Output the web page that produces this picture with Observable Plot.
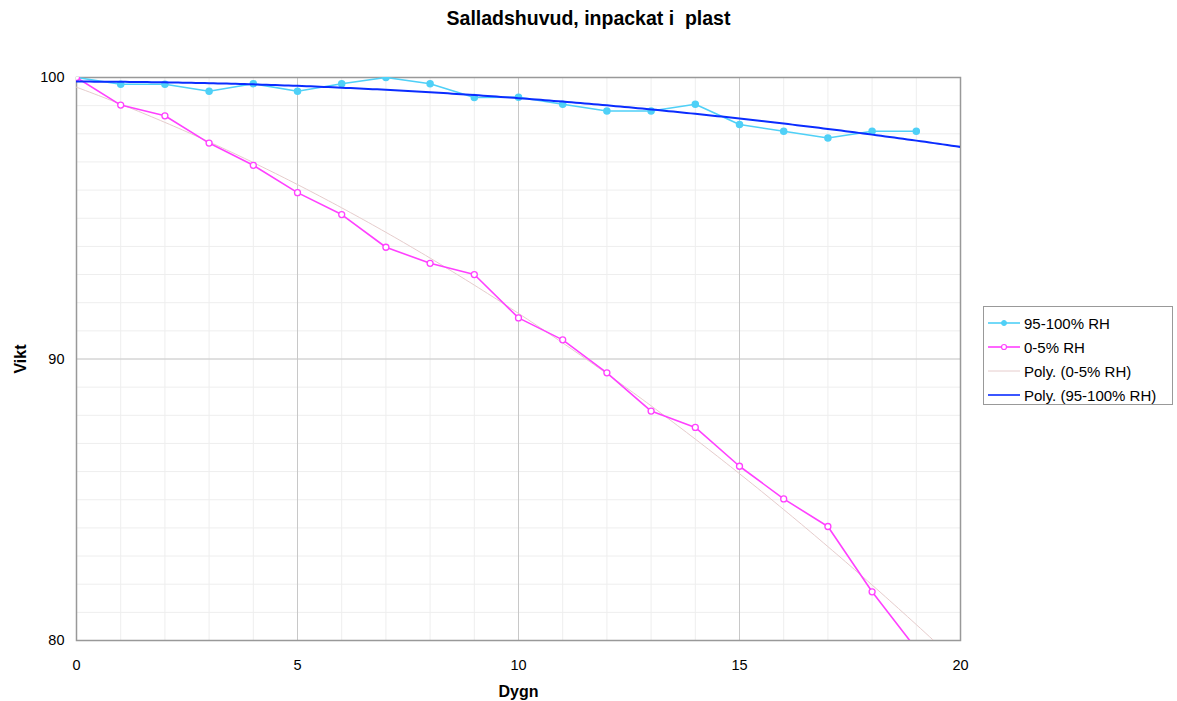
<!DOCTYPE html>
<html><head><meta charset="utf-8">
<script src="https://cdn.jsdelivr.net/npm/d3@7"></script>
<script src="https://cdn.jsdelivr.net/npm/@observablehq/plot@0.6"></script>
<style>
body{margin:0;background:#fff;font-family:"Liberation Sans",Arial,sans-serif;}
#wrap{position:relative;width:1177px;height:701px;}
#title{height:45px;line-height:37px;text-align:center;font-weight:bold;font-size:19.5px;color:#000;}
#legend{position:absolute;left:983px;top:306px;width:190px;height:99px;border:1px solid #999;background:#fff;box-sizing:border-box;font-size:15px;}
.li{position:absolute;left:4px;height:20px;display:flex;align-items:center;}
.li svg{margin-right:4px;}
svg [aria-label="x-axis label"] text, svg [aria-label="y-axis label"] text{font-weight:bold;font-size:16px;}
</style></head>
<body><div id="wrap"><div id="title">Salladshuvud, inpackat i&nbsp; plast</div><div id="chart"></div>
<div id="legend"></div></div>
<script>
const days = [0,1,2,3,4,5,6,7,8,9,10,11,12,13,14,15,16,17,18,19];
const rh95 = [100,99.76,99.76,99.51,99.78,99.51,99.78,100,99.78,99.29,99.3,99.05,98.81,98.81,99.05,98.33,98.09,97.85,98.09,98.09];
const rh0 = [100,99.02,98.64,97.67,96.88,95.91,95.13,93.97,93.40,93.0,91.46,90.68,89.51,88.15,87.57,86.19,85.03,84.05,81.73,79.7];
const xTicks = [0,5,10,15,20];
const yTicks = [80,90,100];
const seriesNames = ["95-100% RH","0-5% RH","Poly. (0-5% RH)","Poly. (95-100% RH)"];
const colors = ["#4fd0f7","#ff40ff","#e6cccc","#0a2cff"];

function polyfit(xs, ys, deg){
  const n = deg+1;
  const A = Array.from({length:n},()=>Array(n+1).fill(0));
  for(let i=0;i<xs.length;i++){
    for(let r=0;r<n;r++){
      for(let c=0;c<n;c++) A[r][c]+=Math.pow(xs[i],r+c);
      A[r][n]+=ys[i]*Math.pow(xs[i],r);
    }
  }
  for(let i=0;i<n;i++){
    let p=i; for(let k=i+1;k<n;k++) if(Math.abs(A[k][i])>Math.abs(A[p][i])) p=k;
    [A[i],A[p]]=[A[p],A[i]];
    for(let k=0;k<n;k++){ if(k===i) continue; const f=A[k][i]/A[i][i]; for(let c=i;c<=n;c++) A[k][c]-=f*A[i][c]; }
  }
  const coef = A.map((row,i)=>row[n]/row[i]);
  return x=>coef.reduce((s,c,i)=>s+c*Math.pow(x,i),0);
}
const f95 = polyfit(days, rh95, 2);
const f0 = polyfit(days, rh0, 2);
const xs = d3.range(0,20.001,0.1);
const trend95 = xs.map(x=>({x, y:f95(x)}));
const trend0 = xs.map(x=>({x, y:f0(x)}));
const d95 = days.map((d,i)=>({x:d,y:rh95[i]}));
const d0 = days.map((d,i)=>({x:d,y:rh0[i]}));
const minorX = d3.range(0,21);
const minorY = d3.range(80,101);

const chart = Plot.plot({
  width:1177, height:656,
  marginLeft:76, marginRight:217, marginTop:32, marginBottom:61,
  style:{fontSize:"14.5px", fontFamily:"Liberation Sans, Arial, sans-serif", color:"#000", background:"#fff"},
  x:{domain:[0,20]},
  y:{domain:[80,100]},
  marks:[
    Plot.ruleX(minorX,{stroke:"#eeeeee",strokeWidth:1}),
    Plot.ruleY(minorY,{stroke:"#eeeeee",strokeWidth:1}),
    Plot.ruleX(xTicks.slice(1,-1),{stroke:"#c8c8c8",strokeWidth:1}),
    Plot.ruleY(yTicks.slice(1,-1),{stroke:"#c8c8c8",strokeWidth:1}),
    Plot.frame({stroke:"#999",strokeWidth:1.5}),
    Plot.axisX({ticks:xTicks, tickSize:0, tickPadding:19, label:"Dygn", labelAnchor:"center", labelArrow:"none", labelOffset:56}),
    Plot.axisY({ticks:yTicks, tickSize:0, tickPadding:12, label:"Vikt", labelAnchor:"center", labelArrow:"none", labelOffset:62}),
    Plot.line(trend0,{x:"x",y:"y",stroke:colors[2],strokeWidth:1,clip:true}),
    Plot.line(d95,{x:"x",y:"y",stroke:colors[0],strokeWidth:1.6,clip:true}),
    Plot.dot(d95,{x:"x",y:"y",r:3,fill:colors[0],stroke:colors[0],clip:true}),
    Plot.line(d0,{x:"x",y:"y",stroke:colors[1],strokeWidth:1.6,clip:true}),
    Plot.dot(d0,{x:"x",y:"y",r:3,fill:"#fff",stroke:colors[1],strokeWidth:1.3,clip:true}),
    Plot.line(trend95,{x:"x",y:"y",stroke:colors[3],strokeWidth:2,clip:true})
  ]
});
document.getElementById("chart").appendChild(chart);

const leg = document.getElementById("legend");
const tops = [7,31,55,79];
seriesNames.forEach((name,i)=>{
  const div = document.createElement("div");
  div.className="li"; div.style.top=(tops[i]-1)+"px";
  let marker = "";
  if(i===0) marker = `<circle cx="16" cy="10" r="2.5" fill="${colors[0]}" stroke="${colors[0]}"/>`;
  if(i===1) marker = `<circle cx="16" cy="10" r="2.5" fill="#fff" stroke="${colors[1]}" stroke-width="1.2"/>`;
  div.innerHTML = `<svg width="32" height="20"><line x1="0" x2="32" y1="10" y2="10" stroke="${colors[i]}" stroke-width="${i===2?1:1.6}"/>${marker}</svg><span>${name}</span>`;
  leg.appendChild(div);
});
</script></body></html>
